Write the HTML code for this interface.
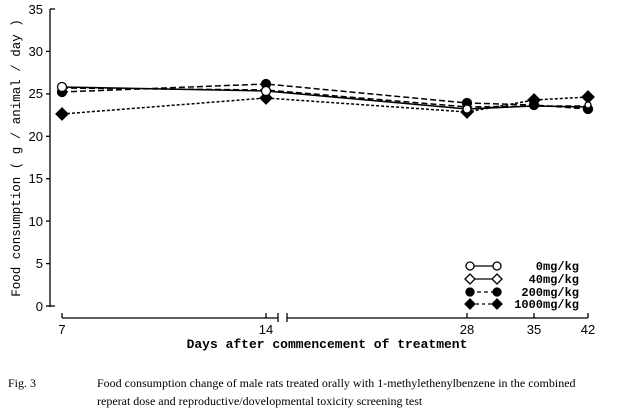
<!DOCTYPE html>
<html><head><style>body{margin:0;background:#fff}svg{display:block}</style></head><body>
<svg width="617" height="415" xmlns="http://www.w3.org/2000/svg" font-family="Liberation Mono, monospace">
<g stroke="#000" stroke-width="1.3" fill="none">
<line x1="50" y1="9" x2="50" y2="307"/>
<g>
<line x1="50" y1="9" x2="55" y2="9"/><line x1="46" y1="51.4" x2="50" y2="51.4"/><line x1="46" y1="93.9" x2="50" y2="93.9"/><line x1="46" y1="136.3" x2="50" y2="136.3"/><line x1="46" y1="178.7" x2="50" y2="178.7"/><line x1="46" y1="221.1" x2="50" y2="221.1"/><line x1="46" y1="263.6" x2="50" y2="263.6"/><line x1="46" y1="306" x2="55" y2="306"/>
</g>
<line x1="62" y1="318" x2="278" y2="318"/><line x1="287" y1="318" x2="588" y2="318"/>
<line x1="62" y1="313" x2="62" y2="318"/><line x1="266" y1="313" x2="266" y2="318"/><line x1="278" y1="313" x2="278" y2="322"/><line x1="287" y1="313" x2="287" y2="322"/>
<line x1="467" y1="313" x2="467" y2="318"/><line x1="534" y1="313" x2="534" y2="318"/><line x1="588" y1="313" x2="588" y2="318"/>
</g>
<g font-size="13" font-family="Liberation Sans, sans-serif" text-anchor="end">
<text x="43" y="14">35</text><text x="43" y="56">30</text><text x="43" y="98">25</text><text x="43" y="141">20</text><text x="43" y="183">15</text><text x="43" y="226">10</text><text x="43" y="268">5</text><text x="43" y="311">0</text>
</g>
<g font-size="13" font-family="Liberation Sans, sans-serif" text-anchor="middle">
<text x="62" y="334">7</text><text x="266" y="334">14</text><text x="467" y="334">28</text><text x="534" y="334">35</text><text x="588" y="334">42</text>
</g>
<text x="327" y="348" font-size="13" font-weight="bold" text-anchor="middle">Days after commencement of treatment</text>
<text transform="translate(20,158) rotate(-90)" font-size="12.5" text-anchor="middle">Food consumption ( g / animal / day )</text>
<g fill="none" stroke="#000" stroke-width="1.5">
<polyline points="62,87 266,91 467,109 534,106 588,107"/>
<polyline points="62,88 266,90 467,107 534,106 588,106" stroke-dasharray="6,3"/>
<polyline points="62,92 266,84 467,103 534,105 588,109" stroke-dasharray="6,3"/>
<polyline points="62,114 266,98 467,112 534,100 588,97" stroke-dasharray="3,2"/>
</g>
<g fill="#000" stroke="#000" stroke-width="1.3">
<circle cx="62" cy="92" r="4.5"/><circle cx="266" cy="84" r="4.5"/><circle cx="467" cy="103" r="4.5"/><circle cx="534" cy="105" r="4.5"/><circle cx="588" cy="109" r="4.5"/>
<path d="M62,108l6,6-6,6-6-6z M266,92l6,6-6,6-6-6z M467,106l6,6-6,6-6-6z M534,94l6,6-6,6-6-6z M588,91l6,6-6,6-6-6z"/>
<circle cx="62" cy="87" r="4.5" fill="#fff"/><circle cx="266" cy="91" r="4.5" fill="#fff"/><circle cx="467" cy="109" r="4" fill="#fff"/><circle cx="588" cy="105" r="3" fill="#fff"/>
</g>
<g stroke="#000" stroke-width="1.3">
<line x1="470" y1="266" x2="497" y2="266"/><circle cx="470" cy="266" r="4" fill="#fff"/><circle cx="497" cy="266" r="4" fill="#fff"/>
<line x1="470" y1="279" x2="497" y2="279"/><path d="M470,274l5,5-5,5-5-5zM497,274l5,5-5,5-5-5z" fill="#fff"/>
<line x1="470" y1="292" x2="497" y2="292" stroke-dasharray="4,3"/><circle cx="470" cy="292" r="4" fill="#000"/><circle cx="497" cy="292" r="4" fill="#000"/>
<line x1="470" y1="304" x2="497" y2="304" stroke-dasharray="3,3"/><path d="M470,299l5,5-5,5-5-5zM497,299l5,5-5,5-5-5z" fill="#000"/>
</g>
<g font-size="12" text-anchor="end" font-weight="bold">
<text x="579" y="270">0mg/kg</text><text x="579" y="283">40mg/kg</text><text x="579" y="296">200mg/kg</text><text x="579" y="308">1000mg/kg</text>
</g>
<g font-family="Liberation Serif, serif" font-size="12">
<text x="8" y="387">Fig. 3</text>
<text x="97" y="387">Food consumption change of male rats treated orally with 1-methylethenylbenzene in the combined</text>
<text x="97" y="405">reperat dose and reproductive/dovelopmental toxicity screening test</text>
</g>
</svg>
</body></html>
